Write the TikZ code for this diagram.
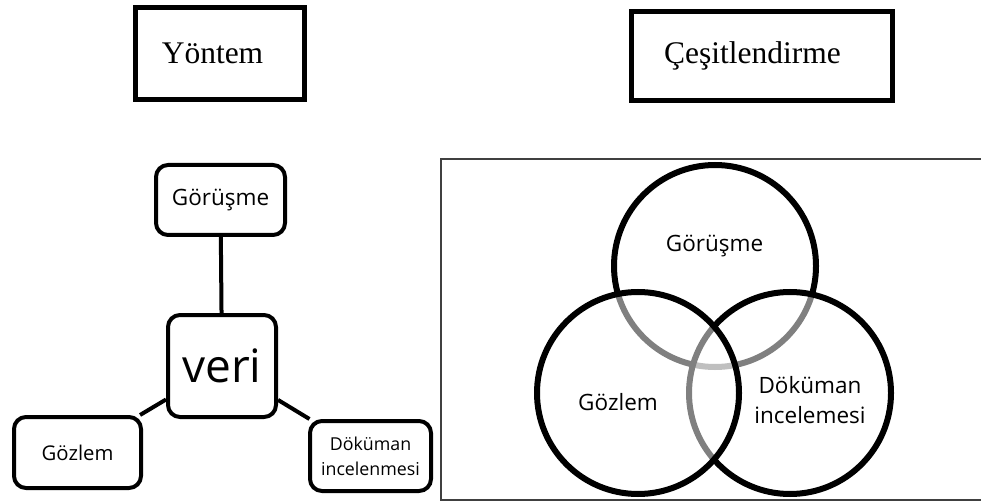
\documentclass[tikz,border=0pt]{standalone}
\usepackage{fontspec}
\usepackage{tikz}
\usetikzlibrary{positioning}
\newfontfamily\labelfont{Open Sans}
\newfontfamily\titlefont{Liberation Serif}
\tikzset{
  titlebox/.style={draw, line width=5pt, align=center, inner sep=0pt,
    font=\titlefont\fontsize{31.5}{36}\selectfont},
  databox/.style={draw, rounded corners=12pt, line width=4pt, fill=white, align=center,
    inner sep=0pt, font=\labelfont\fontsize{22.5}{27}\selectfont},
  link/.style={line width=4pt},
  setcircle/.style={draw, circle, line width=6pt, minimum size=202pt, inner sep=0pt,
    fill=white, fill opacity=0.5},
  settext/.style={anchor=base, align=center, font=\labelfont\fontsize{22.5}{30}\selectfont}
}

\begin{document}
\begin{tikzpicture}[
            x=1pt, y=-1pt,
            frame/.style={draw=black!75, line width=1.2pt}
            ]
            \useasboundingbox (0,0) rectangle (981,502);

            % Basliklar
            \node (yontem) [titlebox, minimum width=169pt, minimum height=92pt] at (220,53.5) {Yöntem\hspace{15pt}};
            \node (cesit) [titlebox, minimum width=261pt, minimum height=89pt] at (762,56) {Çeşitlendirme\hspace{19pt}};

            % Sol taraf
            \node (gorusme) [databox, minimum width=129pt, minimum height=70pt] at (220.5,200) {Görüşme};
            \node (veri) [databox, minimum width=108pt, minimum height=102pt, font=\labelfont\fontsize{46}{50}\selectfont] at (222,366) {veri};
            \node (gozlem) [databox, minimum width=127pt, minimum height=71pt, font=\labelfont\fontsize{20.3}{25}\selectfont] at (77.5,452.5) {Gözlem};
            \node (dokuman) [databox, minimum width=121pt, minimum height=70pt, font=\labelfont\fontsize{17.8}{25}\selectfont] at (370.5,456) {Döküman\\incelenmesi};

            \draw[link] (gorusme) -- (veri);
            \draw[link] (veri) -- (gozlem);
            \draw[link] (veri) -- (dokuman);

            % Sag taraf
            \draw[frame] (990,159) -| (441,500) -- (990,500);
            \node (cgorusme) [setcircle] at (715,266) {};
            \node (cdokuman) [setcircle] at (790,393) {};
            \node (cgozlem) [setcircle] at (638,393) {};

            \node (tgorusme) [settext] at (714.5,252) {Görüşme};
            \node (tgozlem) [settext] at (618,410) {Gözlem};
            \node (tdokuman) [settext] at (810,423) {Döküman\\incelemesi};

      \end{tikzpicture}
\end{document}
